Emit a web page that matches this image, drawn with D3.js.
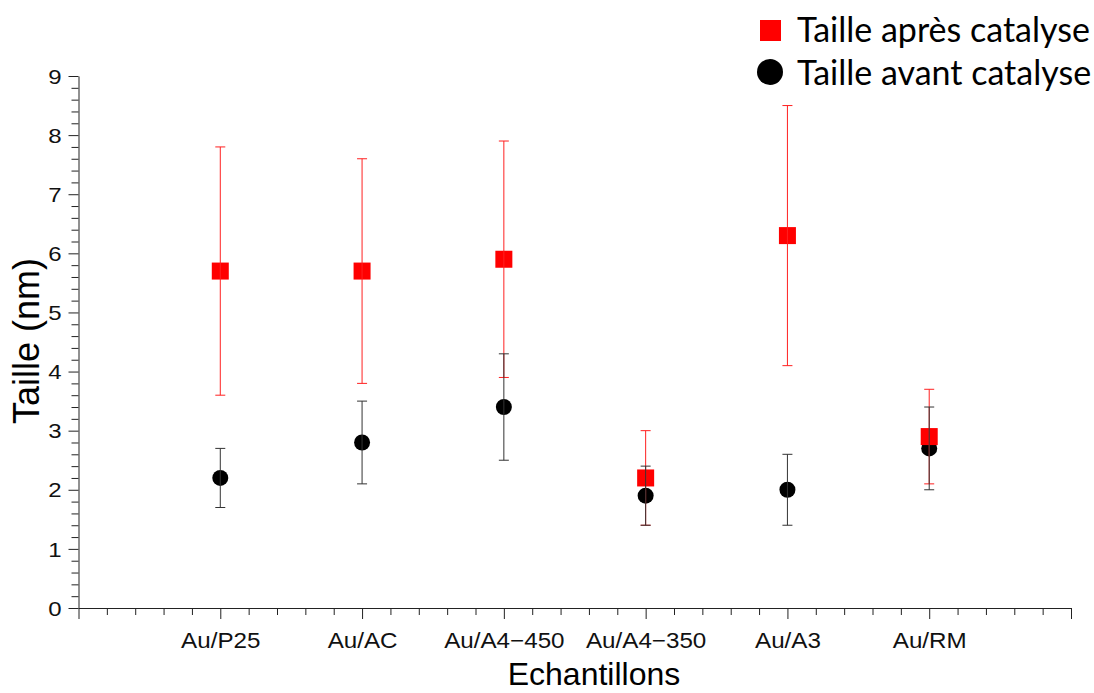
<!DOCTYPE html>
<html><head><meta charset="utf-8">
<script src="https://cdn.jsdelivr.net/npm/d3@7"></script>
<style>
html,body{margin:0;padding:0;background:#fff;}
svg{display:block;}
</style></head>
<body>
<svg id="chart" width="1094" height="693"></svg>
<script>
// ---- data ----
const categories = ["Au/P25", "Au/AC", "Au/A4\u2212450", "Au/A4\u2212350", "Au/A3", "Au/RM"];
const apresValues = [5.7, 5.7, 5.9, 2.2, 6.3, 2.9];
const apresErrors = [2.1, 1.9, 2.0, 0.8, 2.2, 0.8];
const avantValues = [2.2, 2.8, 3.4, 1.9, 2.0, 2.7];
const avantErrors = [0.5, 0.7, 0.9, 0.5, 0.6, 0.7];
const yTickValues = [0, 1, 2, 3, 4, 5, 6, 7, 8, 9];
const seriesNames = ["Taille apr\u00e8s catalyse", "Taille avant catalyse"];
const xTitle = "Echantillons";
const yTitle = "Taille (nm)";

(function () {
const svg = d3.select("#chart");
const mLeft = 78.5, mRight = 1071, mTop = 76, mBottom = 608;
const x = d3.scaleLinear().domain([0, categories.length + 1]).range([mLeft, mRight]);
const y = d3.scaleLinear().domain([0, 9]).range([mBottom, mTop]);
const SX = 1.1; // horizontal stretch of x tick text
const SY = 1.2; // horizontal stretch of y tick text

// ---- axes ----
const xMinor = d3.range(0, (categories.length + 1) * 5 + 1).map(i => i / 5).filter(v => Math.abs(v - Math.round(v)) > 1e-6);
const xMajor = d3.range(0, categories.length + 2);
svg.append("g").attr("transform", `translate(0,${mBottom})`)
  .call(d3.axisBottom(x).tickValues(xMinor).tickSize(7).tickFormat(""))
  .call(g => g.select(".domain").remove());
const gx = svg.append("g").attr("transform", `translate(0,${mBottom})`)
  .call(d3.axisBottom(x).tickValues(xMajor).tickSize(11).tickSizeOuter(0)
    .tickFormat(d => (d >= 1 && d <= categories.length) ? categories[d - 1] : ""));
gx.selectAll("text")
  .attr("y", 40).attr("dy", null)
  .attr("font-family", "'Liberation Sans', Arial, sans-serif")
  .attr("font-size", 22).attr("fill", "#111")
  .attr("transform", `scale(${SX},1)`);

const yMinor = d3.range(0, 46).map(i => i / 5).filter(v => Math.abs(v - Math.round(v)) > 1e-6);
svg.append("g").attr("transform", `translate(${mLeft},0)`)
  .call(d3.axisLeft(y).tickValues(yMinor).tickSize(7).tickFormat(""))
  .call(g => g.select(".domain").remove());
const gy = svg.append("g").attr("transform", `translate(${mLeft},0)`)
  .call(d3.axisLeft(y).tickValues(yTickValues).tickSize(10).tickSizeOuter(0).tickFormat(d3.format("d")));
gy.selectAll("text")
  .attr("x", -17 / SY).attr("dy", "0.36em")
  .attr("font-family", "'Liberation Sans', Arial, sans-serif")
  .attr("font-size", 20).attr("fill", "#111")
  .attr("transform", `scale(${SY},1)`);

svg.selectAll(".domain").attr("stroke", "#222");
svg.selectAll(".tick line").attr("stroke", "#222");

// ---- titles ----
svg.append("text")
  .attr("x", 594).attr("y", 685)
  .attr("text-anchor", "middle")
  .attr("font-family", "'Liberation Sans', Arial, sans-serif")
  .attr("font-size", 32).attr("fill", "#000")
  .text(xTitle);
svg.append("text")
  .attr("transform", "translate(39,341) rotate(-90)")
  .attr("text-anchor", "middle")
  .attr("font-family", "'Liberation Sans', Arial, sans-serif")
  .attr("font-size", 36).attr("fill", "#000")
  .text(yTitle);

// ---- data marks ----
const capW = 5;
const avantData = categories.map((c, i) => ({i: i + 1, v: avantValues[i], e: avantErrors[i]}));
const apresData = categories.map((c, i) => ({i: i + 1, v: apresValues[i], e: apresErrors[i]}));

svg.append("g").selectAll("circle").data(avantData).join("circle")
  .attr("cx", d => x(d.i)).attr("cy", d => y(d.v)).attr("r", 8).attr("fill", "#000");
svg.append("g").selectAll("rect").data(apresData).join("rect")
  .attr("x", d => x(d.i) - 8.5).attr("y", d => y(d.v) - 8.5)
  .attr("width", 17).attr("height", 17).attr("fill", "#ff0000");

function errorBars(data, color) {
  const g = svg.append("g").attr("stroke", color).attr("stroke-width", 1).attr("fill", "none");
  const groups = g.selectAll("g").data(data).join("g");
  groups.append("line")
    .attr("x1", d => x(d.i)).attr("x2", d => x(d.i))
    .attr("y1", d => y(d.v - d.e)).attr("y2", d => y(d.v + d.e));
  groups.append("line")
    .attr("x1", d => x(d.i) - capW).attr("x2", d => x(d.i) + capW)
    .attr("y1", d => y(d.v + d.e)).attr("y2", d => y(d.v + d.e));
  groups.append("line")
    .attr("x1", d => x(d.i) - capW).attr("x2", d => x(d.i) + capW)
    .attr("y1", d => y(d.v - d.e)).attr("y2", d => y(d.v - d.e));
}
errorBars(apresData, "#ff2020");
errorBars(avantData, "#333");

// ---- legend ----
const legend = svg.append("g");
legend.append("rect").attr("x", 760).attr("y", 20).attr("width", 21).attr("height", 21).attr("fill", "#ff0000");
legend.append("circle").attr("cx", 770).attr("cy", 72).attr("r", 13).attr("fill", "#000");
legend.selectAll("text").data(seriesNames).join("text")
  .attr("x", 797).attr("y", (d, i) => 42 + i * 43)
  .attr("font-family", "Lato, 'Open Sans', sans-serif")
  .attr("font-size", 34).attr("fill", "#000")
  .text(d => d);
})();
</script>
</body></html>
